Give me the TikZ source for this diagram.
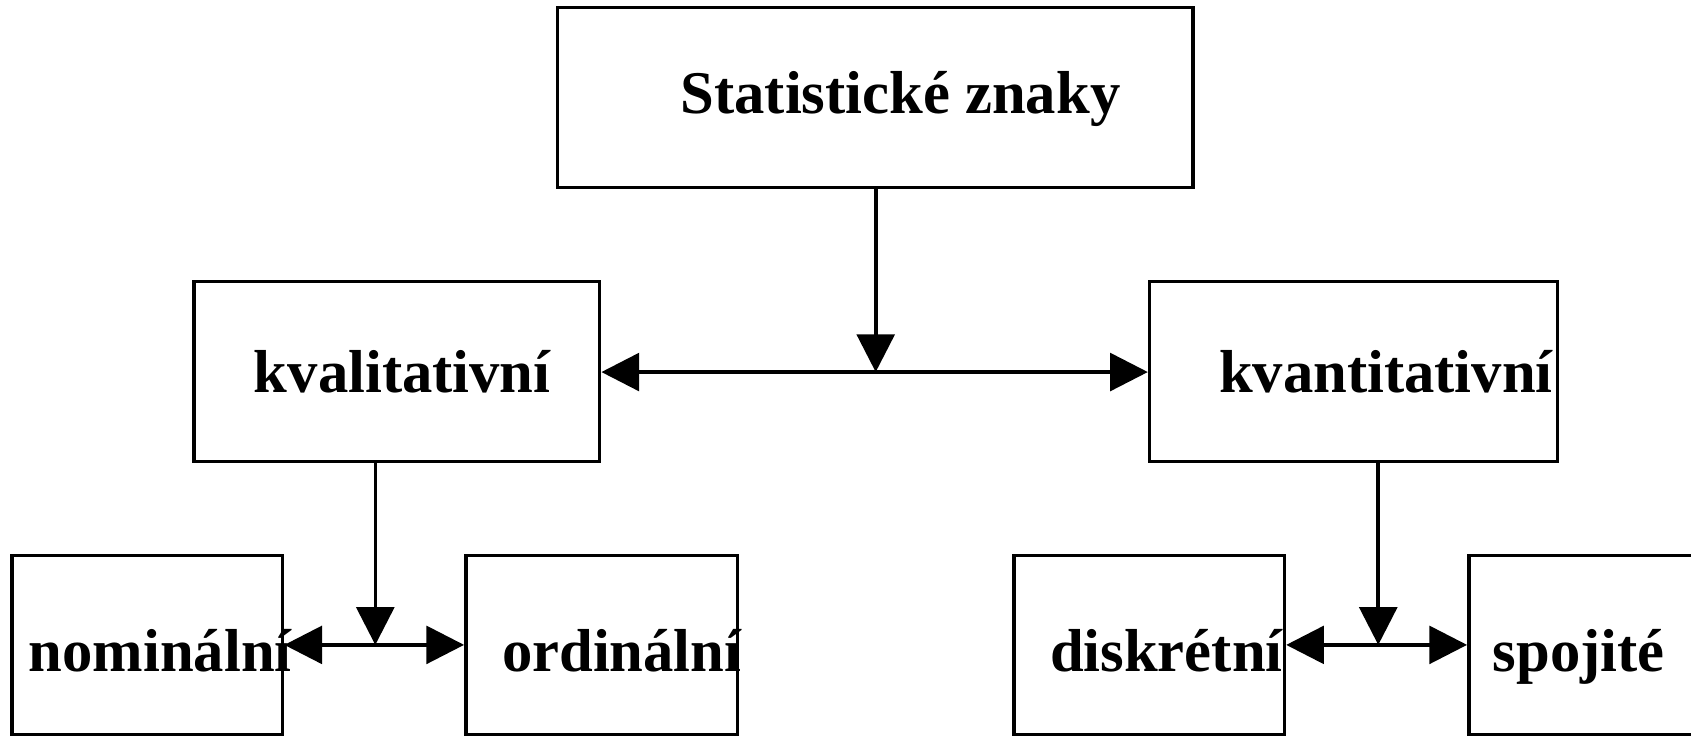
\documentclass[tikz,border=0pt]{standalone}
\usepackage{fontspec}
\setmainfont{Liberation Serif}
\usepackage{tikz}
\usetikzlibrary{calc}
\usetikzlibrary{arrows.meta}

\begin{document}
\begin{tikzpicture}[
	box/.style = {draw, line width=0.95pt, minimum height=1.67cm, inner sep=0pt},
	lbl/.style = {anchor=base, font=\bfseries\fontsize{16}{19}\selectfont, inner sep=0pt},
	arr/.style = {line width=0.95pt, -{Triangle[length=3.5mm,width=3.5mm]}}
]
\useasboundingbox (0,0) rectangle (15.68,6.82);
\node[box, minimum width=5.89cm] (Z) at (8.115,5.915) {};
\node[box, minimum width=3.76cm] (KL) at (3.68,3.375) {};
\node[box, minimum width=3.78cm] (KN) at (12.55,3.375) {};
\node[box, minimum width=2.51cm, minimum height=1.66cm] (NO) at (1.365,0.84) {};
\node[box, minimum width=2.52cm, minimum height=1.66cm] (OR) at (5.58,0.84) {};
\node[box, minimum width=2.51cm, minimum height=1.66cm] (DI) at (10.655,0.84) {};
\node[box, minimum width=2.52cm, minimum height=1.66cm] (SP) at (14.88,0.84) {};
\node[lbl] (tZ) at (8.35,5.77) {Statistické znaky};
\node[lbl] (tKL) at (3.73,3.18) {kvalitativní};
\node[lbl] (tKN) at (12.85,3.18) {kvantitativní};
\node[lbl] (tNO) at (1.485,0.59) {nominální};
\node[lbl] (tOR) at (5.765,0.59) {ordinální};
\node[lbl] (tDI) at (10.815,0.59) {diskrétní};
\node[lbl] (tSP) at (14.64,0.59) {spojité};
\coordinate (M) at (8.12,3.37);
\coordinate (ML) at (3.48,0.84);
\coordinate (MR) at (12.78,0.84);
\draw[arr] (Z.south -| M) -- (M);
\draw[arr] (M) -- (KL.east |- M);
\draw[arr] (M) -- (KN.west |- M);
\draw[arr] (KL.south -| ML) -- (ML);
\draw[arr] (ML) -- (NO.east);
\draw[arr] (ML) -- (OR.west);
\draw[arr] (KN.south -| MR) -- (MR);
\draw[arr] (MR) -- (DI.east);
\draw[arr] (MR) -- (SP.west);
\end{tikzpicture}
\end{document}
